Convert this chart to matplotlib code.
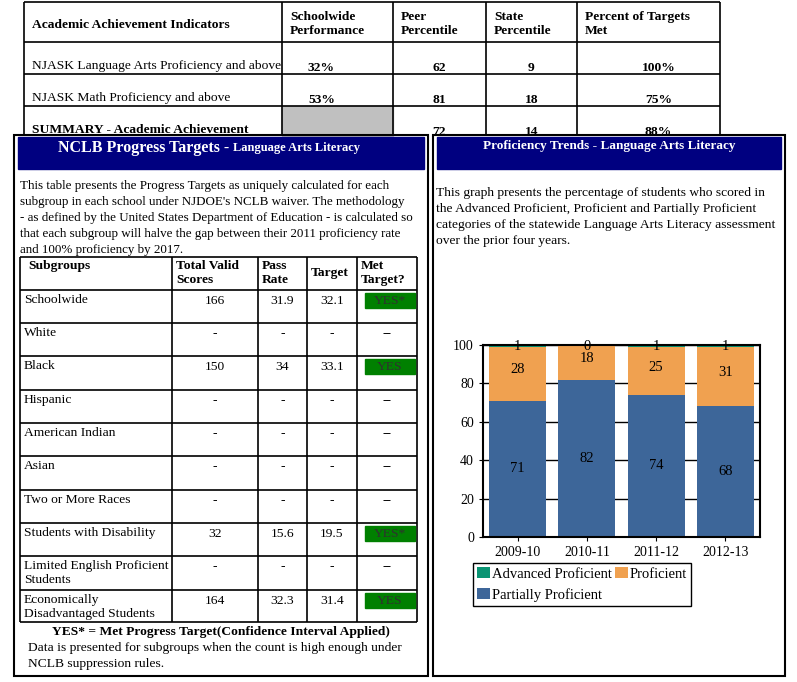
import matplotlib.pyplot as plt
from matplotlib.patches import Rectangle

plt.rcParams['font.family'] = ['Liberation Serif', 'DejaVu Serif']

# top table
top_headers = ['Academic Achievement Indicators', 'Schoolwide\nPerformance', 'Peer\nPercentile',
               'State\nPercentile', 'Percent of Targets\nMet']
top_rows = [['NJASK Language Arts Proficiency and above', '32%', '62', '9', '100%'],
            ['NJASK Math Proficiency and above', '53%', '81', '18', '75%'],
            ['SUMMARY - Academic Achievement', '', '72', '14', '88%']]

# NCLB table
nclb_headers = ['Subgroups', 'Total Valid\nScores', 'Pass\nRate', 'Target', 'Met\nTarget?']
subgroups = ['Schoolwide', 'White', 'Black', 'Hispanic', 'American Indian', 'Asian',
             'Two or More Races', 'Students with Disability',
             'Limited English Proficient\nStudents', 'Economically\nDisadvantaged Students']
valid_scores = ['166', '-', '150', '-', '-', '-', '-', '32', '-', '164']
pass_rate = ['31.9', '-', '34', '-', '-', '-', '-', '15.6', '-', '32.3']
target = ['32.1', '-', '33.1', '-', '-', '-', '-', '19.5', '-', '31.4']
met = ['YES*', '--', 'YES', '--', '--', '--', '--', 'YES*', '--', 'YES']

# trend chart
years = ['2009-10', '2010-11', '2011-12', '2012-13']
partial = [71, 82, 74, 68]
proficient = [28, 18, 25, 31]
advanced = [1, 0, 1, 1]

W, H = 797, 682
fig = plt.figure(figsize=(W / 100, H / 100), dpi=100)
ax = fig.add_axes([0, 0, 1, 1])
ax.set_xlim(0, W)
ax.set_ylim(H, 0)
ax.axis('off')

def line(x0, y0, x1, y1, lw=1.2):
    ax.plot([x0, x1], [y0, y1], color='black', lw=lw, solid_capstyle='butt')

fs = 9.7
# ---- top table
cols = [24, 282, 393, 486, 577, 720]
rows = [2, 42, 74, 106]
ax.add_patch(Rectangle((282, 106), 111, 30, color='#c0c0c0', zorder=0))
for x in cols:
    line(x, 2, x, 135)
for y in rows:
    line(24, y, 720, y)
ax.text(32, 25, top_headers[0], fontsize=fs, weight='bold', va='center')
for i, h in enumerate(top_headers[1:]):
    ax.text(cols[i + 1] + 8, 24, h, fontsize=fs, weight='bold', va='center', linespacing=1.25)
for r, row in enumerate(top_rows):
    y = 66 + 32 * r
    ax.text(32, y, row[0], fontsize=fs, va='center', weight='bold' if r == 2 else 'normal')
    for i, v in enumerate(row[1:]):
        xc = (cols[i + 1] + cols[i + 2]) / 2 - (16 if i == 0 else 0) + (10 if i == 3 else 0)
        ax.text(xc, y + 2, v, fontsize=fs, weight='bold', ha='center', va='center')

# ---- panels
for (x0, x1) in [(14, 428), (433, 785)]:
    ax.add_patch(Rectangle((x0, 135), x1 - x0, 541, fill=False, lw=1.5, zorder=3))
    ax.add_patch(Rectangle((x0 + 4, 137), x1 - x0 - 8, 32, color='#000080', zorder=2))
ax.text(233, 148, 'NCLB Progress Targets - ', fontsize=11.5, weight='bold', color='white',
        ha='right', va='center', zorder=4)
ax.text(233, 148, 'Language Arts Literacy', fontsize=9, weight='bold', color='white',
        ha='left', va='center', zorder=4)
ax.text(609, 146, 'Proficiency Trends - Language Arts Literacy', fontsize=9.5, weight='bold',
        color='white', ha='center', va='center', zorder=4)

left_text = ['This table presents the Progress Targets as uniquely calculated for each',
             "subgroup in each school under NJDOE's NCLB waiver. The methodology",
             '- as defined by the United States Department of Education - is calculated so',
             'that each subgroup will halve the gap between their 2011 proficiency rate',
             'and 100% proficiency by 2017.']
for i, t in enumerate(left_text):
    ax.text(20, 186 + 16 * i, t, fontsize=9.4, va='center')

right_text = ['This graph presents the percentage of students who scored in',
              'the Advanced Proficient, Proficient and Partially Proficient',
              'categories of the statewide Language Arts Literacy assessment',
              'over the prior four years.']
for i, t in enumerate(right_text):
    ax.text(436, 193 + 16 * i, t, fontsize=fs, va='center')

# ---- NCLB table
ncols = [20, 172, 258, 307, 357, 417]
nrows = [257, 290, 323, 356, 390, 423, 456, 490, 523, 556, 590, 622]
for x in ncols:
    line(x, nrows[0], x, nrows[-1])
for y in nrows:
    line(20, y, 417, y)
ax.text(28, 266, nclb_headers[0], fontsize=fs, weight='bold', va='center')
for i, h in enumerate(nclb_headers[1:]):
    ax.text(ncols[i + 1] + 4, 273, h, fontsize=fs, weight='bold', va='center', linespacing=1.2)
for r in range(len(subgroups)):
    top = nrows[r + 1]
    ax.text(24, top + 4, subgroups[r], fontsize=fs, va='top', linespacing=1.2)
    yc = top + 11
    for i, v in enumerate([valid_scores[r], pass_rate[r], target[r]]):
        ax.text((ncols[i + 1] + ncols[i + 2]) / 2, yc, v, fontsize=fs, ha='center', va='center')
    if met[r].startswith('YES'):
        ax.add_patch(Rectangle((365, top + 3), 50, 15, color='#008000', zorder=2))
        ax.text(390, yc, met[r], fontsize=fs, ha='center', va='center', color='#303030', zorder=3)
    else:
        ax.text(387, yc, met[r], fontsize=fs, ha='center', va='center')

ax.text(221, 632, 'YES* = Met Progress Target(Confidence Interval Applied)', fontsize=fs,
        weight='bold', ha='center', va='center')
ax.text(28, 648, 'Data is presented for subgroups when the count is high enough under',
        fontsize=fs, va='center')
ax.text(28, 664, 'NCLB suppression rules.', fontsize=fs, va='center')

# ---- bar chart
bx = fig.add_axes([483 / W, 1 - 537 / H, 277 / W, 192 / H])
c_part, c_prof, c_adv = '#3D6699', '#F0A150', '#0A9473'
xs = range(len(years))
bx.bar(xs, partial, width=0.82, color=c_part, label='Partially Proficient', zorder=2)
bx.bar(xs, proficient, bottom=partial, width=0.82, color=c_prof, label='Proficient', zorder=2)
bot3 = [a + b for a, b in zip(partial, proficient)]
bx.bar(xs, advanced, bottom=bot3, width=0.82, color=c_adv, label='Advanced Proficient', zorder=2)
for i in xs:
    bx.text(i, partial[i] / 2, str(partial[i]), ha='center', va='center', fontsize=10.5)
    bx.text(i, partial[i] + proficient[i] / 2 + 2, str(proficient[i]), ha='center',
            va='center', fontsize=10.5)
    bx.text(i, 99, str(advanced[i]), ha='center', va='center', fontsize=10.5)
bx.set_xlim(-0.5, 3.5)
bx.set_ylim(0, 100)
bx.set_yticks(range(0, 101, 20))
bx.set_xticks(list(xs))
bx.set_xticklabels(years)
bx.tick_params(labelsize=10, length=3)
bx.grid(axis='y', color='black', lw=1, zorder=0)
for s in bx.spines.values():
    s.set_linewidth(1.5)

handles, labels = bx.get_legend_handles_labels()
order = [2, 0, 1]
fig.legend([handles[i] for i in order], [labels[i] for i in order], ncol=2,
           bbox_to_anchor=(473 / W, 1 - 611 / H, 295 / W, 48 / H), loc='upper left',
           fontsize=10.5, fancybox=False, edgecolor='black', framealpha=1,
           handlelength=0.9, handletextpad=0.1, columnspacing=0.2, borderpad=0.3,
           borderaxespad=0)

fig.savefig('out.png', dpi=100)
